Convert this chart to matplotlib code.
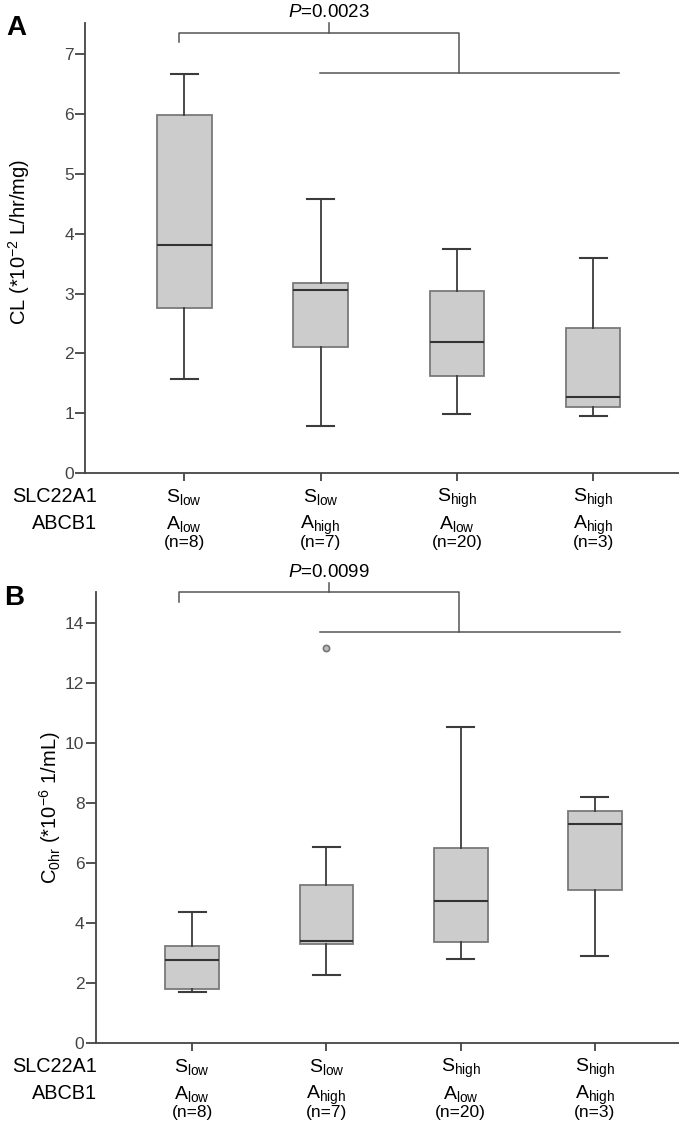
import matplotlib
matplotlib.use('Agg')
import matplotlib.pyplot as plt
from matplotlib import transforms

plt.rcParams['font.family'] = ['Liberation Sans', 'DejaVu Sans']
plt.rcParams['mathtext.fontset'] = 'custom'
plt.rcParams['mathtext.rm'] = 'Liberation Sans'
plt.rcParams['mathtext.it'] = 'Liberation Sans:italic'
plt.rcParams['mathtext.bf'] = 'Liberation Sans:bold'

# group labels
slc_level = ['low', 'low', 'high', 'high']
abcb_level = ['low', 'high', 'low', 'high']
n_group = [8, 7, 20, 3]
positions = [1, 2, 3, 4]

# panel A: CL (*10^-2 L/hr/mg)
cl_whislo = [1.58, 0.79, 0.99, 0.95]
cl_q1 = [2.76, 2.10, 1.63, 1.11]
cl_med = [3.81, 3.06, 2.19, 1.27]
cl_q3 = [5.99, 3.17, 3.05, 2.42]
cl_whishi = [6.67, 4.58, 3.75, 3.59]
cl_fliers = [[], [], [], []]

# panel B: C0hr (*10^-6 1/mL)
c0_whislo = [1.70, 2.27, 2.79, 2.90]
c0_q1 = [1.79, 3.30, 3.37, 5.10]
c0_med = [2.75, 3.41, 4.73, 7.29]
c0_q3 = [3.23, 5.28, 6.51, 7.74]
c0_whishi = [4.38, 6.55, 10.55, 8.20]
c0_fliers = [[], [13.17], [], []]

W, H = 679, 1123
fig = plt.figure(figsize=(6.79, 11.23), dpi=100)


def fx(px):
    return px / W


def fy(py):
    return 1 - py / H


def draw_panel(rect, xlim, ylim, yticks, whislo, q1, med, q3, whishi, fliers):
    ax = fig.add_axes(rect)
    stats = []
    for i in range(4):
        stats.append({'whislo': whislo[i], 'q1': q1[i], 'med': med[i],
                      'q3': q3[i], 'whishi': whishi[i], 'fliers': fliers[i]})
    ax.bxp(stats, positions=positions, widths=0.4, capwidths=0.2,
           patch_artist=True, showfliers=True,
           boxprops=dict(facecolor='#cccccc', edgecolor='#7a7a7a', linewidth=1.3),
           medianprops=dict(color='#333333', linewidth=1.5),
           whiskerprops=dict(color='#3c3c3c', linewidth=1.3),
           capprops=dict(color='#3c3c3c', linewidth=1.5),
           flierprops=dict(marker='o', markersize=4.5, markerfacecolor='#bbbbbb',
                           markeredgecolor='#777777', markeredgewidth=1.2))
    ax.set_xlim(*xlim)
    ax.set_ylim(*ylim)
    ax.set_yticks(yticks)
    ax.set_xticks(positions)
    ax.set_xticklabels([])
    for s in ['top', 'right']:
        ax.spines[s].set_visible(False)
    for s in ['left', 'bottom']:
        ax.spines[s].set_color('#444444')
        ax.spines[s].set_linewidth(1.3)
    ax.tick_params(axis='y', direction='out', length=7, width=1.3, color='#444444',
                   labelsize=12.5, labelcolor='#444444', pad=1)
    ax.tick_params(axis='x', direction='out', length=6, width=1.3, color='#444444')
    return ax


def group_labels(ax, base_s, base_a, base_n):
    trans = transforms.blended_transform_factory(ax.transData, fig.transFigure)
    for i, x in enumerate(positions):
        ax.text(x, fy(base_s), r'S$_{\mathrm{%s}}$' % slc_level[i], ha='center',
                va='baseline', transform=trans, fontsize=14)
        ax.text(x, fy(base_a), r'A$_{\mathrm{%s}}$' % abcb_level[i], ha='center',
                va='baseline', transform=trans, fontsize=14)
        ax.text(x, fy(base_n), '(n=%d)' % n_group[i], ha='center',
                va='baseline', transform=trans, fontsize=12.5)
    fig.text(fx(97), fy(base_s), 'SLC22A1', ha='right', va='baseline', fontsize=14.3)
    fig.text(fx(97), fy(base_a), 'ABCB1', ha='right', va='baseline', fontsize=14.3)


def bracket(ax, x_left, x_tick, x_right, x_start, x_end, y_top, y_left, y_tick, y_low,
            ptext, y_text):
    kw = dict(color='#555555', linewidth=1.1, clip_on=False)
    ax.plot([x_left, x_left, x_right, x_right], [y_left, y_top, y_top, y_low], **kw)
    ax.plot([x_tick, x_tick], [y_top, y_tick], **kw)
    ax.plot([x_start, x_end], [y_low, y_low], **kw)
    ax.text(x_tick, y_text, ptext, ha='center', va='center', fontsize=13.5, clip_on=False)


# ---- panel A ----
axA = draw_panel([fx(85), fy(473), 1 - fx(85), fy(23.3) - fy(473)],
                 (0.2715, 4.63), (0, 7.52), range(0, 8),
                 cl_whislo, cl_q1, cl_med, cl_q3, cl_whishi, cl_fliers)
fig.text(fx(19), fy(242), r'CL (*10$^{-2}$ L/hr/mg)', rotation=90,
         ha='center', va='center', fontsize=14.5)
bracket(axA, 0.963, 2.064, 3.015, 1.993, 4.19, 7.35, 7.20, 7.52, 6.69,
        r'$\mathit{P}$=0.0023', 7.70)
group_labels(axA, 502, 529, 547)
fig.text(fx(16), fy(28), 'A', fontsize=20, fontweight='bold', ha='center', va='center')

# ---- panel B ----
axB = draw_panel([fx(95.5), fy(1042.7), 1 - fx(95.5), fy(592.3) - fy(1042.7)],
                 (0.2787, 4.627), (0, 15.04), range(0, 15, 2),
                 c0_whislo, c0_q1, c0_med, c0_q3, c0_whishi, c0_fliers)
fig.text(fx(50), fy(808), r'C$_{\mathrm{0hr}}$ (*10$^{-6}$ 1/mL)', rotation=90,
         ha='center', va='center', fontsize=14.5)
bracket(axB, 0.903, 2.02, 2.987, 1.949, 4.19, 15.04, 14.71, 15.36, 13.71,
        r'$\mathit{P}$=0.0099', 15.70)
group_labels(axB, 1072, 1099, 1117)
fig.text(fx(14), fy(598), 'B', fontsize=20, fontweight='bold', ha='center', va='center')

fig.savefig('out.png', dpi=100)
